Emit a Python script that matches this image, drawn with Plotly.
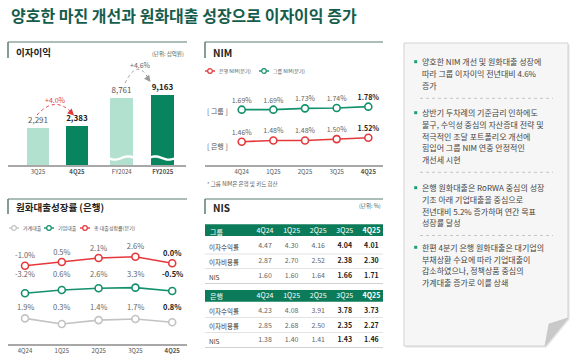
import math
import plotly.graph_objects as go

W, H = 580, 354
FONT = "Noto Sans CJK KR"


def px(x):
    return x / W


def py(y):
    return 1 - y / H


# ---------------- data ----------------
nii_q_labels = ["3Q25", "4Q25"]
nii_q_values = [2291, 2383]
nii_y_labels = ["FY2024", "FY2025"]
nii_y_values = [8761, 9163]
nii_q_growth = "+4.0%"
nii_y_growth = "+4.6%"

quarters = ["4Q24", "1Q25", "2Q25", "3Q25", "4Q25"]
nim_group = [1.69, 1.69, 1.73, 1.74, 1.78]
nim_bank = [1.46, 1.48, 1.48, 1.50, 1.52]

loan_total = [-1.0, 0.5, 2.1, 2.6, 0.0]
loan_corp = [-3.2, 0.6, 2.6, 3.3, -0.5]
loan_house = [1.9, 0.3, 1.4, 1.7, 0.8]

nis_rows = ["이자수익률", "이자비용률", "NIS"]
nis_group_yield = [4.47, 4.30, 4.16, 4.04, 4.01]
nis_group_cost = [2.87, 2.70, 2.52, 2.38, 2.30]
nis_group_nis = [1.60, 1.60, 1.64, 1.66, 1.71]
nis_bank_yield = [4.23, 4.08, 3.91, 3.78, 3.73]
nis_bank_cost = [2.85, 2.68, 2.50, 2.35, 2.27]
nis_bank_nis = [1.38, 1.40, 1.41, 1.43, 1.46]

title_text = "양호한 마진 개선과 원화대출 성장으로 이자이익 증가"
notes = [
    ["양호한 NIM 개선 및 원화대출 성장에", "따라 그룹 이자이익 전년대비 4.6%", "증가"],
    ["상반기 두차례의 기준금리 인하에도", "불구, 수익성 중심의 자산증대 전략 및",
     "적극적인 조달 포트폴리오 개선에", "힘입어 그룹 NIM 연중 안정적인", "개선세 시현"],
    ["은행 원화대출은 RoRWA 중심의 성장", "기조 아래 기업대출을 중심으로",
     "전년대비 5.2% 증가하며 연간 목표", "성장률 달성"],
    ["한편 4분기 은행 원화대출은 대기업의", "부채상환 수요에 따라 기업대출이",
     "감소하였으나, 정책상품 중심의", "가계대출 증가로 이를 상쇄"],
]

# ---------------- style ----------------
MINT = "#b3e1cf"
DARK = "#08855f"
LGREEN = "#13906c"
RED = "#e5383b"
GRAYL = "#c3c3c3"
HDR = "#0b7b59"
FRAME = "#5b7d72"
TXT = "#444444"


def bold_last(strs):
    return [s if i < len(strs) - 1 else f"<b>{s}</b>" for i, s in enumerate(strs)]


fig = go.Figure()

# ---------------- 이자이익 bars ----------------
for labels, values, xa, ya in [(nii_q_labels, nii_q_values, "x", "y"),
                               (nii_y_labels, nii_y_values, "x2", "y2")]:
    fig.add_trace(go.Bar(
        x=labels, y=values, xaxis=xa, yaxis=ya, width=0.56,
        marker=dict(color=[MINT, DARK], line_width=0),
        text=bold_last([f"{v:,}" for v in values]), textposition="outside",
        constraintext="none", cliponaxis=False, hoverinfo="skip",
        textfont=dict(size=8, color=["#555555", "#222222"], family=FONT)))


# ---------------- line traces ----------------
def line_trace(xs, ys, color, xa, ya, labels=None, tsize=7):
    return go.Scatter(
        x=xs, y=ys, xaxis=xa, yaxis=ya,
        mode="lines+markers+text" if labels else "lines+markers",
        line=dict(color=color, width=1.6),
        marker=dict(size=7, color="white", line=dict(color=color, width=1.6)),
        text=labels, textposition="top center", cliponaxis=False, hoverinfo="skip",
        textfont=dict(size=tsize, color=["#666666"] * (len(ys) - 1) + ["#222222"], family=FONT))


def pct2(v):
    return f"{v:.2f}%"


def pct1(v):
    return f"{v:.1f}%"


fig.add_trace(line_trace(quarters, nim_group, LGREEN, "x3", "y3", bold_last([pct2(v) for v in nim_group])))
fig.add_trace(line_trace(quarters, nim_bank, RED, "x3", "y4", bold_last([pct2(v) for v in nim_bank])))

fig.add_trace(line_trace(quarters, loan_total, RED, "x4", "y5", bold_last([pct1(v) for v in loan_total]), 7.5))
fig.add_trace(line_trace(quarters, loan_corp, LGREEN, "x4", "y6"))
fig.add_trace(line_trace(quarters, loan_house, GRAYL, "x4", "y7"))

annotations = []
for series, ylab in [(loan_corp, 280.5), (loan_house, 314)]:
    for q, v, last in zip(quarters, series, [False] * 4 + [True]):
        annotations.append(dict(x=q, xref="x4", y=py(ylab), yref="paper", showarrow=False,
                                text=f"<b>{pct1(v)}</b>" if last else pct1(v),
                                font=dict(size=7.5, color="#222222" if last else "#666666", family=FONT)))

# ---------------- NIS tables (text on hidden category axes) ----------------
HDR_KEY = "hdr"
row_order = list(reversed(nis_rows)) + [HDR_KEY]


def table_traces(title, rows_vals, ya):
    xs, ys, ts, cs = [], [], [], []
    for rname, vals in zip(nis_rows, rows_vals):
        for j, (q, v) in enumerate(zip(quarters, vals)):
            s = f"{v:.2f}"
            xs.append(q)
            ys.append(rname)
            ts.append(f"<b>{s}</b>" if j >= 3 else s)
            cs.append("#222222" if j >= 3 else "#666666")
    fig.add_trace(go.Scatter(x=xs, y=ys, xaxis="x5", yaxis=ya, mode="text", text=ts,
                             textposition="middle center", hoverinfo="skip", cliponaxis=False,
                             textfont=dict(size=7, color=cs, family=FONT)))
    fig.add_trace(go.Scatter(x=quarters, y=[HDR_KEY] * len(quarters), xaxis="x5", yaxis=ya,
                             mode="text", text=bold_last(quarters), textposition="middle center",
                             hoverinfo="skip", cliponaxis=False,
                             textfont=dict(size=7, color="white", family=FONT)))
    for rname in nis_rows:
        annotations.append(dict(x=px(207), xref="paper", y=rname, yref=ya, showarrow=False,
                                xanchor="left", yanchor="middle", text=rname,
                                font=dict(size=6.5, color="#333333", family=FONT)))
    annotations.append(dict(x=px(208), xref="paper", y=HDR_KEY, yref=ya, showarrow=False,
                            xanchor="left", yanchor="middle", text=title,
                            font=dict(size=7, color="white", family=FONT)))


table_traces("그룹", [nis_group_yield, nis_group_cost, nis_group_nis], "y8")
table_traces("은행", [nis_bank_yield, nis_bank_cost, nis_bank_nis], "y9")


# ---------------- axes ----------------
def cat_x(d0, d1, rng, pos, cats):
    return dict(domain=[px(d0), px(d1)], range=rng, anchor="free", position=py(pos),
                type="category", showline=True, linecolor="#a8a8a8", linewidth=2,
                ticks="", showgrid=False, zeroline=False, fixedrange=True,
                tickmode="array", tickvals=cats, ticktext=bold_last(cats),
                tickfont=dict(size=6, color="#555555", family=FONT))


def val_y(top, bottom, zero_px, ppu, cats=None):
    d = dict(domain=[py(bottom), py(top)],
             range=[(zero_px - bottom) / ppu, (zero_px - top) / ppu],
             visible=False, fixedrange=True, anchor="free", position=0)
    if cats:
        d.update(type="category", categoryorder="array", categoryarray=cats)
    return d


layout_axes = dict(
    xaxis=cat_x(8, 95, [-0.769, 1.462], 166, nii_q_labels),
    xaxis2=cat_x(95, 186, [-0.654, 1.568], 166, nii_y_labels),
    xaxis3=cat_x(205, 383, [-1.16, 4.464], 166, quarters),
    xaxis4=cat_x(8, 187, [-0.462, 4.402], 344.5, quarters),
    xaxis5=dict(domain=[px(205), px(383)], range=[-2.256, 4.436], type="category",
                categoryorder="array", categoryarray=quarters, visible=False,
                fixedrange=True, anchor="free", position=0),
    yaxis=val_y(66, 166, 166, 0.01658),
    yaxis2=val_y(66, 166, 166, 0.007762),
    yaxis3=val_y(90, 166, 166.0, 33.33),
    yaxis4=val_y(120, 160, 239.1, 66.67),
    yaxis5=val_y(240, 300, 263.2, 2.5),
    yaxis6=val_y(275, 300, 290.5, 0.86),
    yaxis7=val_y(305, 340, 325.1, 3.56),
    yaxis8=val_y(222, 286, 276.5, 15, row_order),
    yaxis9=val_y(288, 350, 340.5, 14.7, row_order),
)

# ---------------- shapes & annotations ----------------
shapes = []


def P(x, y):
    return f"{px(x):.5f},{py(y):.5f}"


def poly(pts):
    return "M " + " L ".join(P(x, y) for x, y in pts) + " Z"


def hline(x0, x1, y, color, width=1, dash="solid"):
    shapes.append(dict(type="line", xref="paper", yref="paper", x0=px(x0), x1=px(x1),
                       y0=py(y), y1=py(y), line=dict(color=color, width=width, dash=dash)))


def vline(x, y0, y1, color, width=1.5):
    shapes.append(dict(type="line", xref="paper", yref="paper", x0=px(x), x1=px(x),
                       y0=py(y0), y1=py(y1), line=dict(color=color, width=width)))


def text(x, y, s, size, color=TXT, anchor="left", bold=False):
    annotations.append(dict(x=px(x), y=py(y), xref="paper", yref="paper", showarrow=False,
                            xanchor=anchor, yanchor="middle",
                            text=f"<b>{s}</b>" if bold else s,
                            font=dict(size=size, color=color, family=FONT)))


# title
text(9, 15, title_text, 16, "#165c4c", bold=True)

# panel frames + headers
for (x0, x1, yt, yv) in [(8, 187, 42, 58), (205, 383, 42, 58), (8, 187, 199, 214), (205, 383, 199, 214)]:
    hline(x0, x1, yt, FRAME, 1)
    vline(x0, yt, yv, FRAME, 1.5)
text(14, 52, "이자이익", 9.5, "#222222", bold=True)
text(211, 52.5, "NIM", 10, "#222222", bold=True)
text(14, 207.5, "원화대출성장률 (은행)", 9.5, "#222222", bold=True)
text(211, 207.5, "NIS", 10, "#222222", bold=True)
text(186, 54, "(단위: 십억원)", 5.5, "#3d5e54", anchor="right")
text(383, 206, "(단위: %)", 5.5, "#3d5e54", anchor="right")

# broken-axis wave on annual bars
wave = []
for i in range(0, 71):
    x = 106 + i
    wave.append((x, 158 + 1.6 * math.sin(2 * math.pi * (x - 108) / 27)))
shapes.append(dict(type="path", xref="paper", yref="paper",
                   path="M " + " L ".join(P(x, y) for x, y in wave),
                   line=dict(color="white", width=2.4)))

# growth arcs
shapes.append(dict(type="path", xref="paper", yref="paper",
                   path=f"M {P(37, 115)} Q {P(55, 95)} {P(72, 113)}",
                   line=dict(color=RED, width=1, dash="dot")))
annotations.append(dict(x=px(74), y=py(115.5), xref="paper", yref="paper", text="",
                        showarrow=True, ax=-4, ay=-4, arrowhead=2, arrowsize=1.3,
                        arrowwidth=1, arrowcolor=RED, standoff=0))
text(55, 100, nii_q_growth, 7, RED, anchor="center")
shapes.append(dict(type="path", xref="paper", yref="paper",
                   path=f"M {P(125, 83)} Q {P(138, 57)} {P(149, 80)}",
                   line=dict(color="#9a9a9a", width=1, dash="dot")))
annotations.append(dict(x=px(150.5), y=py(82), xref="paper", yref="paper", text="",
                        showarrow=True, ax=-3, ay=-4, arrowhead=2, arrowsize=1.3,
                        arrowwidth=1, arrowcolor="#9a9a9a", standoff=0))
text(140, 65, nii_y_growth, 7, "#666666", anchor="center")


# legends, row labels, footnote
def legend_item(x, y, color, label, size):
    hline(x, x + 10, y, color, 1.4)
    r = 2.3
    shapes.append(dict(type="circle", xref="paper", yref="paper",
                       x0=px(x + 5 - r), x1=px(x + 5 + r), y0=py(y + r), y1=py(y - r),
                       fillcolor="white", line=dict(color=color, width=1.2)))
    text(x + 12, y, label, size, "#555555")


legend_item(205, 71, RED, "은행 NIM(분기)", 5)
legend_item(259, 71, LGREEN, "그룹 NIM(분기)", 5)
text(218, 111, "[ 그룹 ]", 7, "#555555", anchor="center")
text(218, 146, "[ 은행 ]", 7, "#555555", anchor="center")
text(205, 184, "* 그룹 NIM은 은행 및 카드 합산", 5.5, "#555555")

legend_item(9, 228, GRAYL, "가계대출", 5)
legend_item(44, 228, LGREEN, "기업대출", 5)
legend_item(80, 228, RED, "총 대출성장률(분기)", 5)

# table header bands + row separators
for (y0, y1) in [(224.3, 236), (290, 301.8)]:
    shapes.append(dict(type="rect", xref="paper", yref="paper", layer="below",
                       x0=px(205), x1=px(383), y0=py(y1), y1=py(y0),
                       fillcolor=HDR, line=dict(width=0)))
for y in [254, 268.5, 317.5, 332.5]:
    hline(205, 383, y, "#e3e3e3", 1)
for y in [283.5, 347.5]:
    hline(205, 383, y, "#d0d0d0", 1)

# note box with folded corner
shapes.append(dict(type="path", xref="paper", yref="paper", layer="below",
                   path=poly([(405.5, 44.5), (569.5, 44.5), (569.5, 319.5), (546.5, 347.5), (405.5, 347.5)]),
                   fillcolor="#e4e4e4", line=dict(width=0)))
shapes.append(dict(type="path", xref="paper", yref="paper", layer="below",
                   path=poly([(404, 43), (568, 43), (568, 318), (545, 346), (404, 346)]),
                   fillcolor="#f6f6f6", line=dict(color="#d2d2d2", width=1)))
shapes.append(dict(type="path", xref="paper", yref="paper",
                   path=poly([(568, 318), (545, 346), (549, 324)]),
                   fillcolor="#c9c9c9", line=dict(color="#bdbdbd", width=0.6)))

first_y = [61.7, 112.7, 187.7, 247.3]
sep_y = [98.3, 172.3, 235.5]
LH = 11.7
for lines, y0 in zip(notes, first_y):
    shapes.append(dict(type="rect", xref="paper", yref="paper",
                       x0=px(414.2), x1=px(417.2), y0=py(y0 + 1.5), y1=py(y0 - 1.5),
                       fillcolor="#19a077", line=dict(width=0)))
    for k, ln in enumerate(lines):
        text(420, y0 + k * LH, ln, 8, "#454545")
for y in sep_y:
    hline(420, 553, y, "#c6c6c6", 1, "dot")

fig.update_layout(
    width=W, height=H, margin=dict(l=0, r=0, t=0, b=0),
    paper_bgcolor="white", plot_bgcolor="rgba(0,0,0,0)", showlegend=False,
    font=dict(family=FONT), bargap=0,
    shapes=shapes, annotations=annotations, **layout_axes)

fig.write_html("out.html")
